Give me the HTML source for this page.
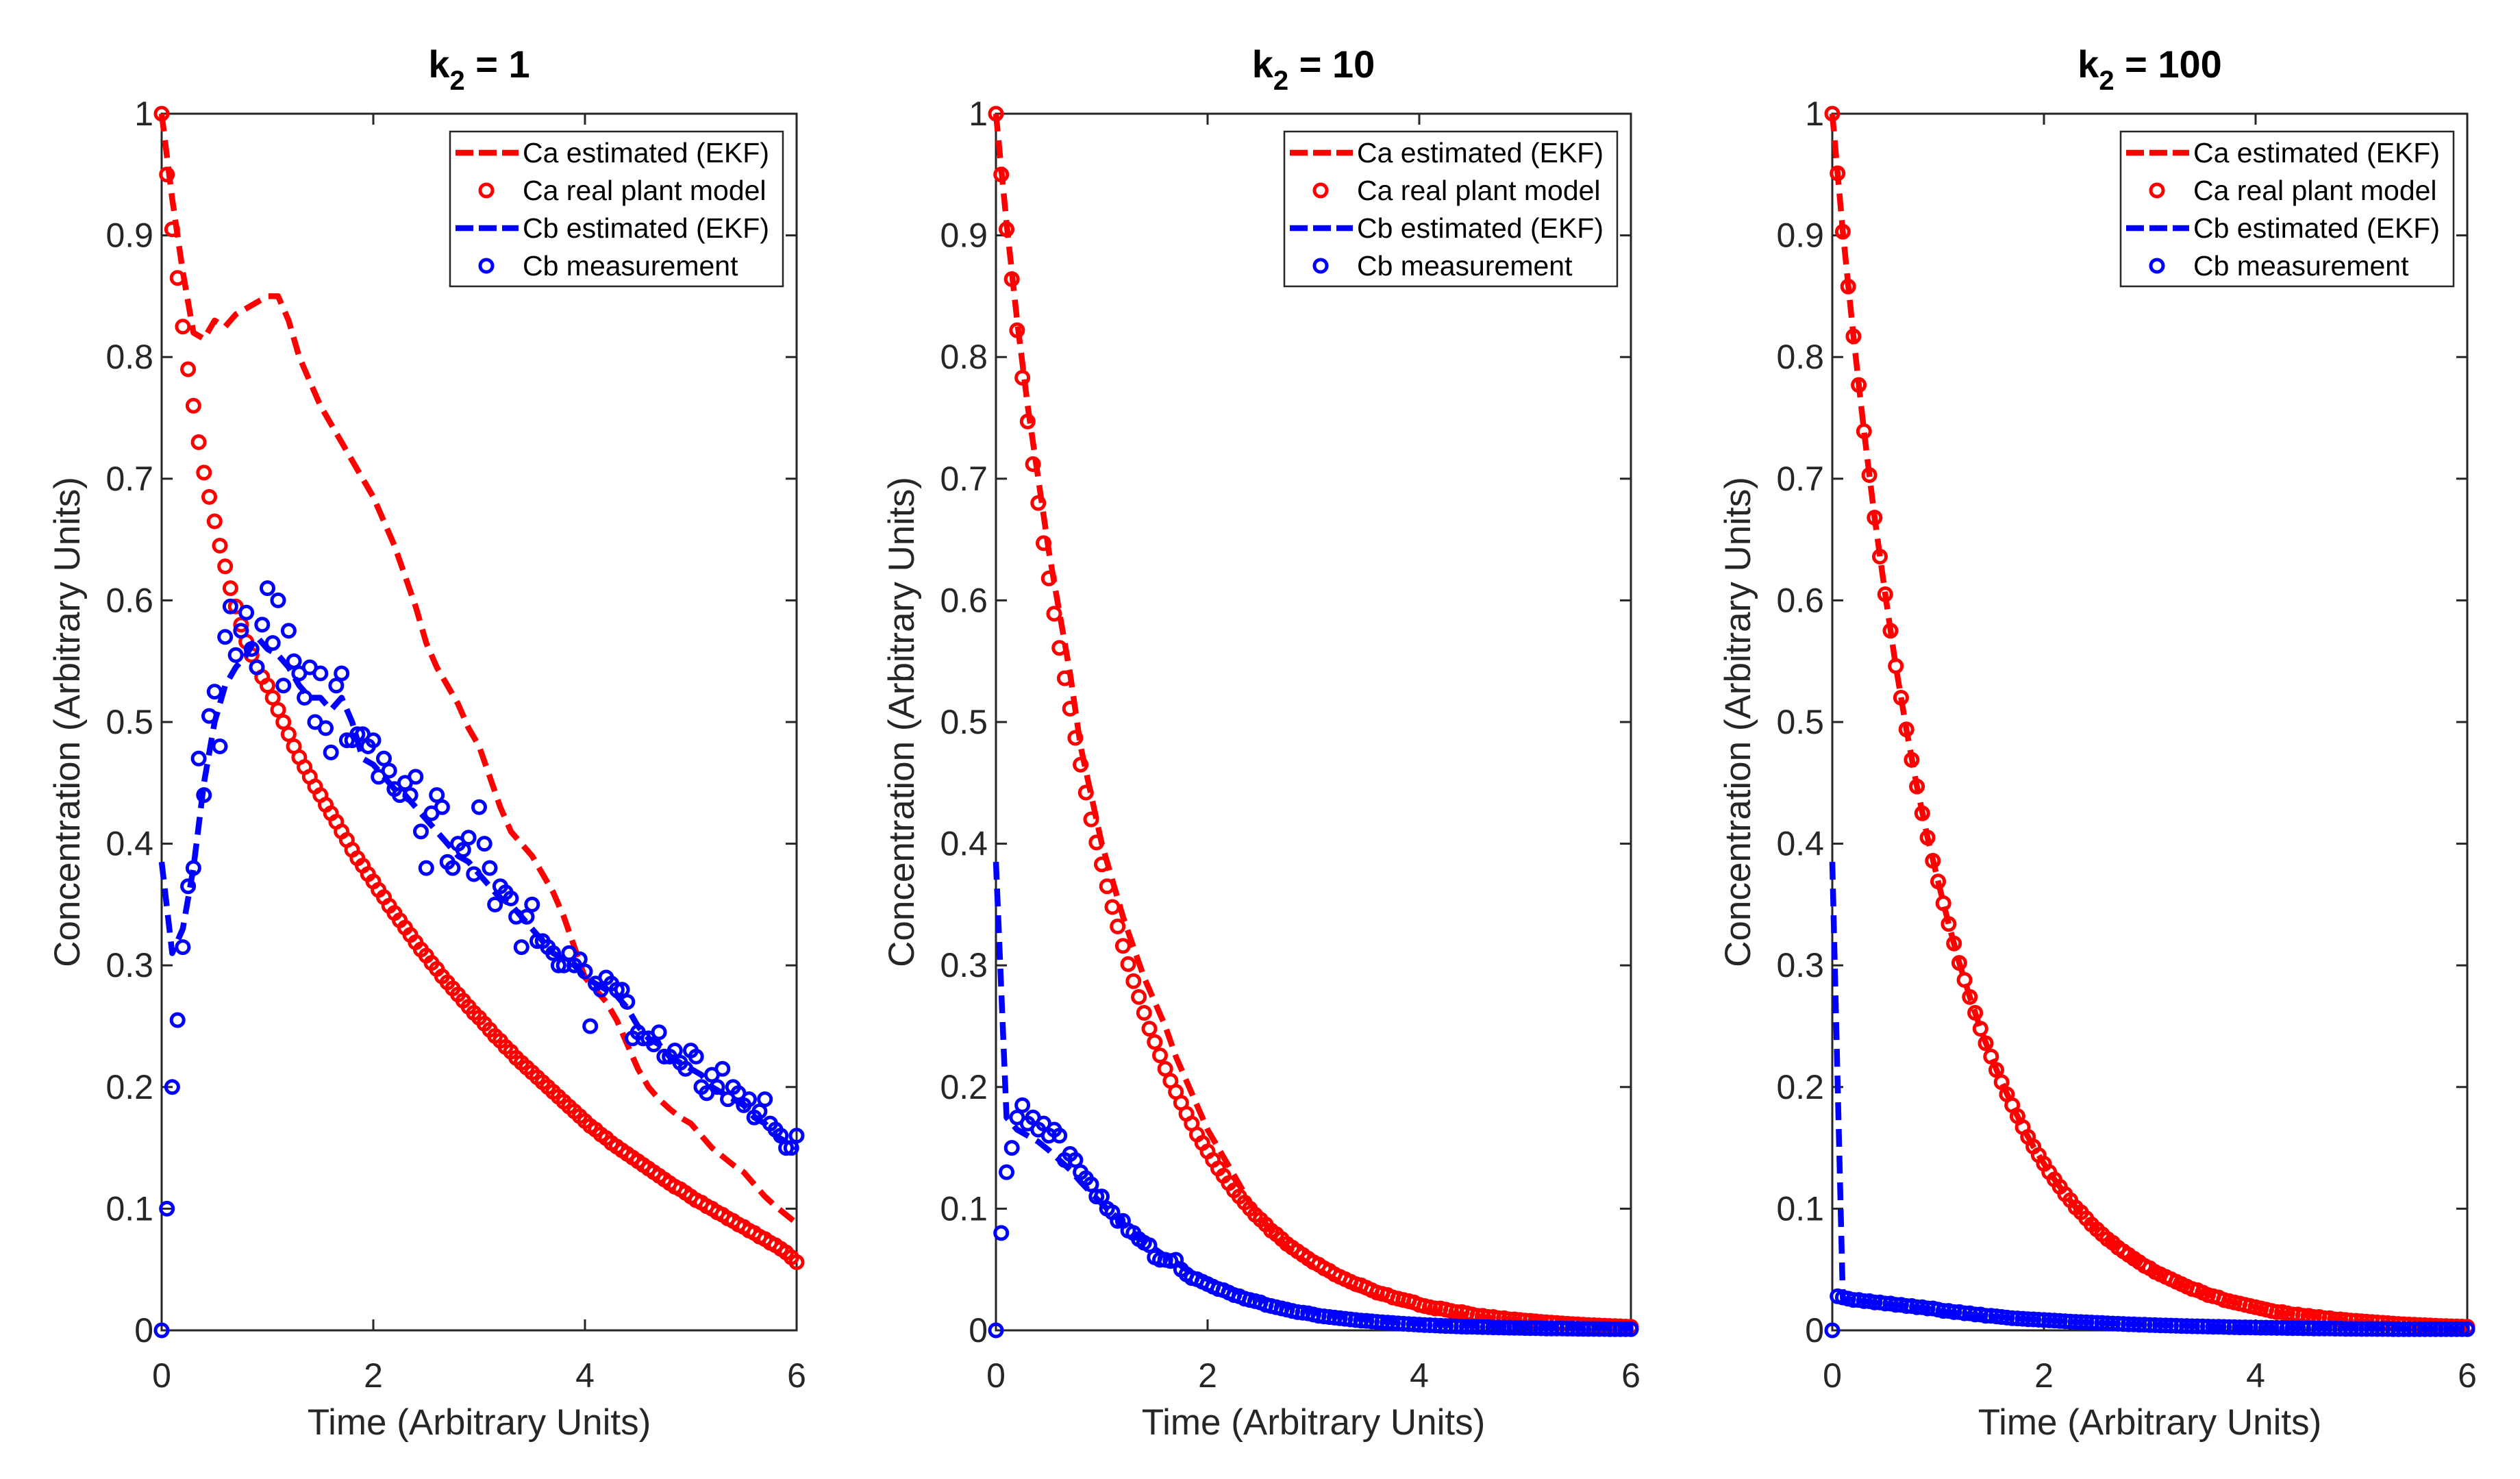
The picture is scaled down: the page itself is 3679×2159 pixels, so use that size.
<!DOCTYPE html>
<html><head><meta charset="utf-8">
<style>
html,body{margin:0;padding:0;background:#fff;}
svg{display:block;}
text{font-family:"Liberation Sans",Arial,sans-serif;}
</style></head>
<body>
<svg id="fig" width="3679" height="2159" viewBox="0 0 3679 2159" xmlns="http://www.w3.org/2000/svg"></svg>
<script>
// ---------- data ----------
const xTicks = [0, 2, 4, 6];
const yTicks = [0, 0.1, 0.2, 0.3, 0.4, 0.5, 0.6, 0.7, 0.8, 0.9, 1];
const yTickLabels = ["0","0.1","0.2","0.3","0.4","0.5","0.6","0.7","0.8","0.9","1"];
const panelTitles = ["1", "10", "100"];
const legendLabels = ["Ca estimated (EKF)", "Ca real plant model", "Cb estimated (EKF)", "Cb measurement"];
const markerStep = 0.05;
const lineStep = 0.1;

// panel k2 = 1
const caEst1 = [1,.93,.87,.82,.815,.83,.825,.835,.84,.845,.85,.85,.83,.8,.78,.76,.745,.73,.715,.7,.685,.665,.645,.62,.595,.565,.545,.53,.515,.495,.48,.455,.43,.41,.4,.39,.375,.36,.34,.315,.29,.28,.27,.255,.235,.215,.2,.19,.182,.175,.17,.16,.15,.143,.136,.13,.12,.11,.102,.095,.088];
const caReal1 = [1,.95,.905,.865,.825,.79,.76,.73,.705,.685,.665,.645,.628,.61,.595,.58,.566,.555,.545,.537,.53,.52,.51,.5,.49,.48,.471,.463,.455,.447,.44,.432,.425,.418,.41,.403,.395,.388,.382,.375,.369,.362,.356,.349,.343,.337,.331,.325,.319,.313,.308,.302,.297,.291,.286,.281,.276,.271,.266,.261,.257,.252,.247,.242,.238,.233,.229,.224,.22,.216,.212,.208,.204,.2,.196,.192,.188,.184,.18,.176,.172,.168,.165,.161,.158,.154,.151,.148,.145,.142,.139,.136,.133,.13,.127,.124,.121,.118,.116,.113,.11,.107,.105,.102,.1,.097,.095,.092,.09,.087,.085,.082,.08,.077,.075,.072,.07,.067,.064,.06,.056];
const cbEst1 = [.385,.31,.33,.38,.45,.5,.53,.545,.555,.57,.56,.555,.545,.53,.52,.52,.51,.52,.5,.47,.465,.455,.445,.44,.43,.42,.41,.4,.39,.385,.375,.365,.355,.35,.34,.33,.32,.31,.305,.3,.29,.285,.28,.275,.265,.25,.24,.235,.225,.22,.215,.21,.2,.195,.19,.185,.175,.17,.16,.155,.15];
const cbMeas1 = [0,.1,.2,.255,.315,.365,.38,.47,.44,.505,.525,.48,.57,.595,.555,.575,.59,.56,.545,.58,.61,.565,.6,.53,.575,.55,.54,.52,.545,.5,.54,.495,.475,.53,.54,.485,.485,.49,.49,.48,.485,.455,.47,.46,.445,.44,.45,.44,.455,.41,.38,.425,.44,.43,.385,.38,.4,.395,.405,.375,.43,.4,.38,.35,.365,.36,.355,.34,.315,.34,.35,.32,.32,.315,.31,.3,.3,.31,.3,.305,.295,.25,.285,.28,.29,.285,.28,.28,.27,.24,.245,.24,.24,.235,.245,.225,.225,.23,.22,.215,.23,.225,.2,.195,.21,.2,.215,.19,.2,.195,.185,.19,.175,.18,.19,.17,.165,.16,.15,.15,.16];

// panel k2 = 10
const caEst2 = [1,.91,.83,.76,.7,.64,.59,.54,.48,.44,.4,.37,.34,.315,.29,.27,.25,.225,.205,.185,.165,.15,.135,.12,.105,.093,.082,.073,.065,.058,.052,.047,.042,.038,.034,.031,.028,.025,.022,.02,.018,.016,.015,.014,.013,.012,.011,.01,.0095,.009,.0085,.008,.0075,.007,.0065,.006,.0055,.005,.0048,.0045,.0042];
const caReal2 = [1,.95,.905,.864,.822,.783,.747,.712,.68,.647,.618,.589,.561,.536,.511,.487,.465,.442,.42,.401,.383,.365,.348,.332,.316,.301,.287,.274,.261,.248,.237,.226,.215,.205,.196,.187,.178,.17,.161,.154,.147,.14,.133,.127,.121,.115,.11,.105,.1,.095,.091,.087,.082,.079,.075,.071,.068,.065,.062,.059,.056,.054,.051,.049,.046,.044,.042,.04,.038,.037,.035,.033,.031,.03,.029,.027,.026,.025,.024,.023,.021,.02,.019,.018,.018,.017,.016,.015,.015,.014,.013,.012,.012,.011,.011,.01,.01,.009,.009,.0085,.008,.0078,.0074,.007,.0066,.0063,.006,.0057,.0054,.0051,.0049,.0046,.0044,.0042,.004,.0038,.0036,.0035,.0033,.0031,.003];
const cbEst2 = [.385,.175,.165,.16,.155,.148,.14,.132,.122,.113,.104,.096,.088,.08,.073,.067,.061,.056,.05,.046,.042,.038,.035,.031,.028,.025,.023,.021,.019,.017,.015,.013,.012,.011,.01,.009,.008,.007,.0065,.006,.0055,.005,.0047,.0044,.0041,.0038,.0035,.0033,.0031,.0029,.0027,.0025,.0024,.0023,.0022,.0021,.002,.0019,.0018,.0017,.0016];
const cbMeas2 = [0,.08,.13,.15,.175,.185,.17,.175,.165,.17,.16,.165,.16,.14,.145,.14,.13,.125,.12,.11,.11,.1,.097,.09,.09,.082,.08,.075,.072,.07,.06,.058,.058,.057,.058,.05,.046,.043,.042,.04,.038,.036,.034,.033,.031,.029,.028,.026,.025,.024,.023,.021,.02,.019,.018,.017,.016,.015,.0145,.014,.013,.012,.0115,.011,.0105,.01,.0095,.009,.0085,.008,.0078,.0074,.007,.0066,.0063,.006,.0057,.0054,.0051,.0049,.0046,.0044,.0042,.004,.0038,.0036,.0035,.0033,.0031,.003,.0029,.0028,.0027,.0026,.0025,.0024,.0023,.0022,.0021,.002,.0019,.0018,.0018,.0017,.0016,.0016,.0015,.0015,.0014,.0014,.0013,.0013,.0012,.0012,.0011,.0011,.001,.001,.001,.001,.001];

// panel k2 = 100
const caEst3 = [1,.903,.817,.739,.668,.605,.546,.494,.447,.405,.369,.334,.302,.274,.248,.225,.204,.185,.167,.151,.137,.124,.112,.101,.092,.083,.075,.068,.062,.056,.051,.046,.042,.038,.034,.031,.028,.025,.023,.021,.019,.017,.015,.014,.013,.012,.011,.01,.009,.008,.0075,.0068,.0062,.0056,.005,.0046,.0042,.0038,.0035,.0032,.003];
const caReal3 = [1,.951,.903,.858,.817,.777,.739,.703,.668,.636,.605,.575,.546,.52,.494,.469,.447,.425,.405,.386,.369,.351,.334,.318,.302,.288,.274,.261,.248,.236,.225,.214,.204,.194,.185,.176,.167,.159,.151,.144,.137,.13,.124,.118,.112,.107,.101,.097,.092,.087,.083,.079,.075,.072,.068,.065,.062,.059,.056,.053,.051,.048,.046,.044,.042,.04,.038,.036,.034,.033,.031,.029,.028,.027,.025,.024,.023,.022,.021,.02,.019,.018,.017,.016,.015,.015,.014,.013,.013,.012,.012,.011,.011,.01,.01,.009,.009,.0085,.008,.0078,.0075,.0071,.0068,.0065,.0062,.0059,.0056,.0053,.005,.0048,.0046,.0044,.0042,.004,.0038,.0036,.0035,.0033,.0032,.0031,.003];
const cbEst3 = [.385,.026,.025,.024,.023,.022,.021,.02,.019,.018,.016,.015,.014,.013,.012,.0115,.011,.01,.0095,.009,.0085,.008,.0075,.007,.0066,.0062,.0058,.0055,.0052,.0049,.0046,.0043,.004,.0038,.0036,.0034,.0032,.003,.0028,.0026,.0025,.0024,.0022,.0021,.002,.0019,.0018,.0017,.0016,.0015,.0014,.0014,.0013,.0012,.0012,.0011,.0011,.001,.001,.001,.001];
const cbMeas3 = [0,.028,.027,.026,.025,.025,.024,.024,.023,.023,.022,.022,.021,.021,.02,.02,.019,.019,.018,.018,.017,.016,.016,.015,.015,.014,.014,.013,.013,.012,.012,.0115,.011,.0105,.01,.0098,.0095,.0092,.009,.0087,.0085,.0082,.008,.0077,.0075,.0072,.007,.0068,.0066,.0064,.0062,.006,.0058,.0056,.0054,.0052,.005,.0049,.0047,.0046,.0044,.0043,.0041,.004,.0039,.0038,.0036,.0035,.0034,.0033,.0032,.0031,.003,.0029,.0028,.0027,.0026,.0025,.0025,.0024,.0023,.0022,.0022,.0021,.002,.002,.0019,.0018,.0018,.0017,.0017,.0016,.0016,.0015,.0015,.0014,.0014,.0013,.0013,.0013,.0012,.0012,.0012,.0011,.0011,.0011,.001,.001,.001,.001,.001,.001,.001,.001,.001,.001,.001,.001,.001,.001,.001];

const panelSeries = [
  {caEst: caEst1, caReal: caReal1, cbEst: cbEst1, cbMeas: cbMeas1},
  {caEst: caEst2, caReal: caReal2, cbEst: cbEst2, cbMeas: cbMeas2},
  {caEst: caEst3, caReal: caReal3, cbEst: cbEst3, cbMeas: cbMeas3}
];

// ---------- layout ----------
const NS = "http://www.w3.org/2000/svg";
const svg = document.getElementById("fig");
const panelLefts = [236, 1454, 2675];
const PW = 927, TOP = 166, BOT = 1942;
const RED = "#ff0000", BLUE = "#0000ff", AX = "#262626";

function mk(tag, attrs, parent) {
  const e = document.createElementNS(NS, tag);
  for (const k in attrs) e.setAttribute(k, attrs[k]);
  (parent || svg).appendChild(e);
  return e;
}

panelSeries.forEach((ser, p) => {
  const L = panelLefts[p], R = L + PW;
  const xs = t => L + (t / 6) * PW;
  const ys = v => BOT - v * (BOT - TOP);
  const g = mk("g", {});
  
  

  const title = mk("text", {x: L + PW / 2, y: 113, "text-anchor": "middle", "font-size": 56, "font-weight": "bold", fill: "#000"}, g);
  
  
  const ts1 = mk("tspan", {}, title); ts1.textContent = "k";
  const ts2 = mk("tspan", {dy: 18, "font-size": 40}, title); ts2.textContent = "2";
  const ts3 = mk("tspan", {dy: -18}, title); ts3.textContent = " = " + panelTitles[p];

  const box = mk("rect", {x: L, y: TOP, width: PW, height: BOT - TOP, fill: "none", stroke: AX, "stroke-width": 3}, g);
  
  

  yTicks.forEach((v, i) => {
    const y = ys(v);
    mk("line", {x1: L, x2: L + 16, y1: y, y2: y, stroke: AX, "stroke-width": 3}, g);
    mk("line", {x1: R, x2: R - 16, y1: y, y2: y, stroke: AX, "stroke-width": 3}, g);
    const tl = mk("text", {x: L - 12, y: y + 17, "text-anchor": "end", "font-size": 50, fill: AX}, g);
    
    
    tl.textContent = yTickLabels[i];
  });
  xTicks.forEach(t => {
    const x = xs(t);
    mk("line", {x1: x, x2: x, y1: BOT, y2: BOT - 16, stroke: AX, "stroke-width": 3}, g);
    mk("line", {x1: x, x2: x, y1: TOP, y2: TOP + 16, stroke: AX, "stroke-width": 3}, g);
    const tl = mk("text", {x: x, y: 2025, "text-anchor": "middle", "font-size": 50, fill: AX}, g);
    
    
    tl.textContent = String(t);
  });

  const xl = mk("text", {x: L + PW / 2, y: 2094, "text-anchor": "middle", "font-size": 53, fill: AX}, g);
  
  
  xl.textContent = "Time (Arbitrary Units)";
  const yx = L - 120, yy = (TOP + BOT) / 2;
  const yl = mk("text", {x: yx, y: yy, "text-anchor": "middle", "font-size": 53, fill: AX, transform: "rotate(-90 " + yx + " " + yy + ")"}, g);
  
  
  yl.textContent = "Concentration (Arbitrary Units)";

  function linePath(arr, color, name) {
    const d = arr.map((v, i) => (i ? "L" : "M") + xs(i * lineStep).toFixed(1) + " " + ys(v).toFixed(1)).join(" ");
    const pth = mk("path", {d: d, fill: "none", stroke: color, "stroke-width": 8.5, "stroke-dasharray": "26 13", "stroke-linejoin": "round"}, g);
    
    
  }
  function markers(arr, color, name) {
    const mg = mk("g", {fill: "none", stroke: color, "stroke-width": 5}, g);
    
    
    arr.forEach((v, i) => {
      const c = mk("circle", {cx: xs(i * markerStep).toFixed(1), cy: ys(v).toFixed(1), r: 9}, mg);
      
      
    });
  }
  linePath(ser.caEst, RED, "ca-estimated-line");
  markers(ser.caReal, RED, "ca-real-markers");
  linePath(ser.cbEst, BLUE, "cb-estimated-line");
  markers(ser.cbMeas, BLUE, "cb-measurement-markers");

  const lgL = R - 20 - 486, lgT = 192;
  const lg = mk("g", {}, g);
  
  
  mk("rect", {x: lgL, y: lgT, width: 486, height: 226, fill: "#fff", stroke: AX, "stroke-width": 2.5}, lg);
  const rowY = [223, 278, 333, 388];
  const colors = [RED, RED, BLUE, BLUE];
  legendLabels.forEach((lab, i) => {
    const y = rowY[i];
    const ent = mk("g", {}, lg);
    
    
    if (i % 2 === 0) {
      mk("line", {x1: lgL + 8, x2: lgL + 100, y1: y, y2: y, stroke: colors[i], "stroke-width": 8.5, "stroke-dasharray": "26 8"}, ent);
    } else {
      mk("circle", {cx: lgL + 53, cy: y, r: 9, fill: "none", stroke: colors[i], "stroke-width": 5}, ent);
    }
    const t = mk("text", {x: lgL + 106, y: y + 14, "font-size": 41, fill: "#000"}, ent);
    t.textContent = lab;
  });
});
</script>
</body></html>
